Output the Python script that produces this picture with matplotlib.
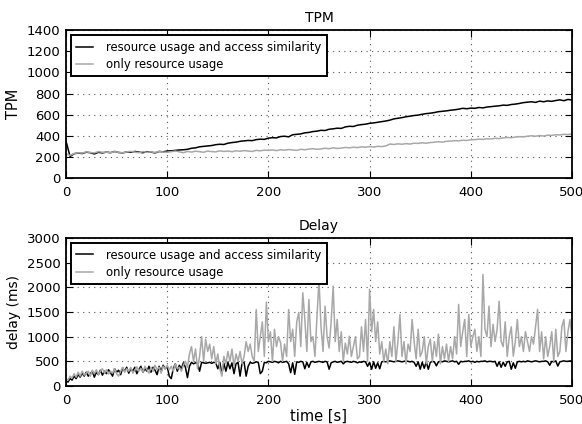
import numpy as np
import matplotlib
matplotlib.use("Agg")
import matplotlib.pyplot as plt

# TPM series, one value every 4 s (t = 0 .. 500)
tpm_step = 4
tpm_similarity = [
    350, 205, 230, 238, 232, 245, 240, 228, 244, 238,
    246, 240, 252, 242, 238, 248, 244, 252, 246, 240,
    250, 246, 238, 252, 248, 256, 258, 262, 266, 268,
    272, 282, 286, 296, 300, 304, 308, 316, 320, 318,
    330, 336, 340, 348, 352, 356, 354, 364, 368, 366,
    378, 382, 380, 393, 396, 390, 410, 414, 418, 428,
    432, 440, 444, 452, 450, 462, 466, 472, 470, 484,
    490, 488, 500, 506, 510, 518, 522, 528, 534, 540,
    548, 560, 566, 572, 580, 586, 592, 596, 604, 610,
    614, 620, 628, 632, 636, 642, 646, 652, 660, 656,
    662, 660, 668, 664, 672, 676, 680, 684, 690, 688,
    696, 700, 706, 714, 718, 722, 716, 728, 722, 730,
    726, 734, 740, 732, 744, 738,
]
tpm_resource = [
    230, 215, 232, 240, 236, 248, 242, 238, 250, 244, 246,
    240, 250, 244, 238, 248, 252, 246, 240, 250, 244,
    248, 242, 252, 246, 244, 250, 256, 248, 240, 252,
    246, 254, 250, 244, 256, 250, 248, 258, 252, 256,
    250, 258, 254, 260, 256, 252, 262, 258, 264, 262,
    266, 260, 268, 264, 270, 266, 262, 272, 268, 274,
    278, 272, 276, 282, 278, 286, 280, 284, 290, 286,
    292, 288, 296, 292, 298, 294, 300, 298, 304, 322,
    318, 324, 320, 326, 322, 330, 328, 334, 330, 336,
    340, 344, 340, 348, 350, 354, 352, 358, 356, 362,
    364, 368, 366, 372, 370, 376, 374, 380, 384, 382,
    388, 392, 390, 396, 400, 396, 402, 398, 406, 404,
    410, 408, 414, 412, 416,
]

# delay series (ms), one value every 2 s (t = 0 .. 500)
delay_step = 2
delay_similarity = [
    100, 80, 150, 120, 200, 150, 230, 180, 260, 200,
    280, 200, 250, 300, 180, 280, 230, 320, 220, 300,
    250, 330, 270, 200, 350, 280, 320, 230, 370, 300,
    380, 260, 350, 300, 380, 250, 330, 400, 280, 350,
    300, 400, 280, 380, 320, 230, 400, 300, 420, 350,
    400, 200, 150, 350, 450, 300, 420, 350, 470, 380,
    170, 400, 480, 450, 470, 460, 300, 480, 470, 460,
    470, 480, 460, 480, 470, 350, 480, 250, 460, 300,
    480, 350, 470, 250, 450, 480, 200, 470, 480, 200,
    400, 480, 460, 470, 490, 480, 250, 300, 480, 470,
    500, 490, 480, 500, 490, 470, 500, 480, 490, 500,
    450, 270, 470, 237, 490, 480, 500, 490, 350, 480,
    380, 490, 500, 480, 490, 500, 490, 480, 500, 490,
    340, 470, 490, 500, 480, 490, 500, 450, 490, 500,
    490, 480, 500, 490, 470, 490, 480, 500, 490, 400,
    480, 340, 490, 360, 470, 350, 490, 500, 490, 500,
    510, 500, 490, 500, 510, 500, 490, 500, 510, 500,
    490, 500, 480, 400, 490, 340, 480, 360, 490, 340,
    480, 500, 490, 410, 490, 500, 490, 510, 500, 490,
    500, 510, 490, 500, 440, 500, 490, 500, 500, 510,
    490, 500, 480, 500, 490, 500, 500, 510, 490, 500,
    500, 490, 500, 400, 490, 380, 480, 400, 490, 500,
    340, 470, 360, 490, 500, 490, 500, 490, 510, 500,
    490, 500, 510, 500, 490, 500, 500, 510, 490, 420,
    500, 490, 510, 405, 490, 500, 510, 500, 500, 510,
    500,
]
delay_resource = [
    150, 120, 200, 160, 250, 180, 280, 200, 300, 220,
    260, 300, 200, 320, 250, 330, 230, 300, 350, 260,
    330, 240, 300, 260, 350, 250, 200, 300, 380, 280,
    350, 300, 380, 260, 320, 390, 300, 360, 280, 400,
    330, 260, 380, 300, 420, 330, 380, 260, 400, 350,
    420, 330, 400, 300, 450, 350, 380, 300, 420, 500,
    380, 650, 800, 500, 750, 350, 600, 1000, 500, 950,
    700, 850, 550, 800, 450, 650, 350, 200, 600, 450,
    700, 500, 750, 400, 650, 500, 700, 450, 600, 900,
    700, 850, 600, 500, 1550, 700, 1000, 1300, 600, 1700,
    900, 1100, 500, 1150, 800, 1000, 880, 500, 850, 600,
    1550, 900, 1150, 600, 1300, 1490, 800, 1890, 1350, 700,
    1755, 900, 1000, 600, 1400, 2150, 1200, 700, 1620, 1000,
    770, 1300, 2025, 900, 1350, 700, 1100, 500, 870, 650,
    1010, 600, 800, 1000, 550, 600, 1200, 700, 1350, 500,
    1960, 1100, 1550, 900, 1300, 650, 900, 500, 750, 450,
    900, 600, 1200, 500, 900, 1450, 600, 900, 450, 850,
    700, 1350, 900, 550, 1150, 600, 700, 1000, 450, 800,
    950, 500, 900, 600, 1050, 450, 800, 550, 850, 500,
    800, 550, 1000, 650, 1654, 800, 1100, 1350, 600, 1450,
    800, 1000, 1150, 700, 1000, 600, 2260, 1150, 1000, 1620,
    800, 1250, 900, 1150, 1720, 900, 800, 1300, 600, 1000,
    1200, 607, 900, 1350, 800, 1000, 700, 1100, 900, 700,
    1000, 850, 1200, 1553, 700, 1100, 550, 1000, 600, 800,
    1100, 500, 1150, 600, 700, 1200, 1350, 700, 1100, 1350,
    1000,
]

label_sim = "resource usage and access similarity"
label_res = "only resource usage"

plt.rcParams["font.family"] = "DejaVu Sans"
plt.rcParams["font.size"] = 9.5
plt.rcParams["xtick.direction"] = "in"
plt.rcParams["ytick.direction"] = "in"
plt.rcParams["xtick.top"] = True
plt.rcParams["ytick.right"] = True
plt.rcParams["xtick.major.size"] = 5
plt.rcParams["ytick.major.size"] = 5
plt.rcParams["xtick.major.pad"] = 6
plt.rcParams["ytick.major.pad"] = 4

fig = plt.figure(figsize=(5.82, 4.24), dpi=100)
ax1 = fig.add_axes([0.1134, 0.580, 0.8694, 0.349])
ax2 = fig.add_axes([0.1134, 0.0896, 0.8694, 0.349])

t_tpm = np.arange(len(tpm_similarity)) * tpm_step
t_delay = np.arange(len(delay_similarity)) * delay_step

ax1.plot(t_tpm, tpm_similarity, color="black", lw=1.1, label=label_sim)
ax1.plot(t_tpm, tpm_resource, color="#a8a8a8", lw=1.1, label=label_res)
ax1.set_xlim(0, 500)
ax1.set_ylim(0, 1400)
ax1.set_yticks(range(0, 1401, 200))
ax1.set_title("TPM", fontsize=10, pad=6)
ax1.set_ylabel("TPM", fontsize=10.5)

ax2.plot(t_delay, delay_similarity, color="black", lw=1.1, label=label_sim)
ax2.plot(t_delay, delay_resource, color="#a8a8a8", lw=1.1, label=label_res)
ax2.set_xlim(0, 500)
ax2.set_ylim(0, 3000)
ax2.set_yticks(range(0, 3001, 500))
ax2.set_title("Delay", fontsize=10, pad=6)
ax2.set_ylabel("delay (ms)", fontsize=10)
ax2.set_xlabel("time [s]", fontsize=10.5, labelpad=1)

for ax in (ax1, ax2):
    ax.set_xticks(range(0, 501, 100))
    ax.grid(True, linestyle=(0, (1, 4)), color="#555555", lw=0.8)
    for sp in ax.spines.values():
        sp.set_linewidth(1.3)
    leg = ax.legend(loc="upper left", fancybox=False, framealpha=1,
                    edgecolor="black", handlelength=1.45, handletextpad=1.1,
                    borderpad=0.45, labelspacing=0.35, borderaxespad=0.45,
                    fontsize=8.4)
    leg.get_frame().set_linewidth(1.4)

fig.savefig("out.png", dpi=100)
